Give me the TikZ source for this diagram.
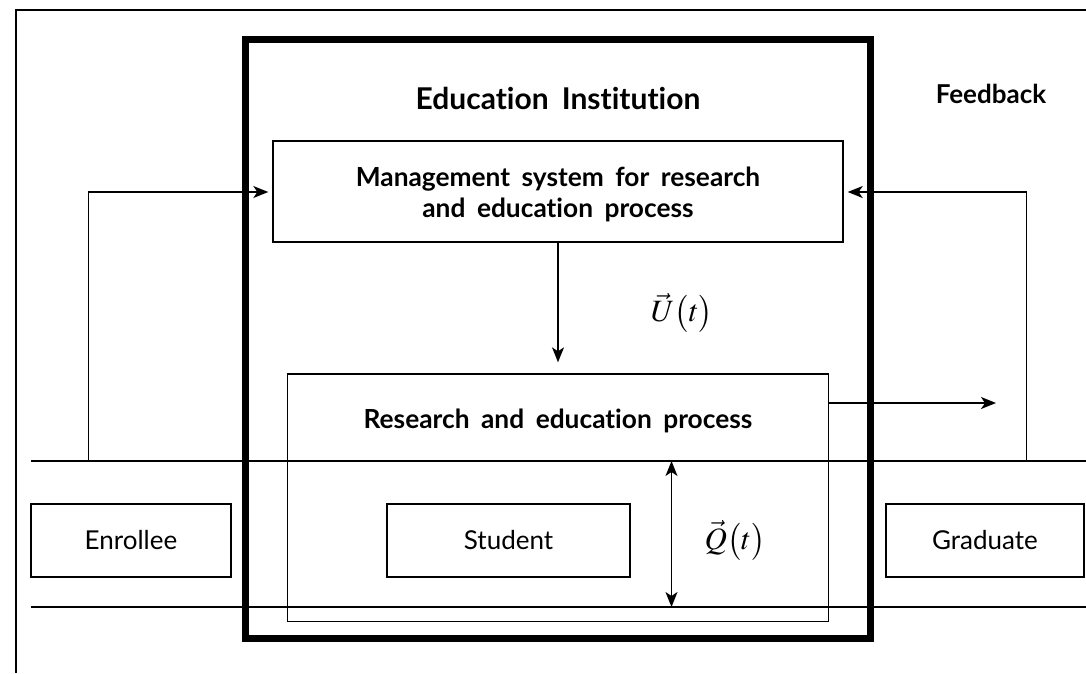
\documentclass[tikz,border=0pt]{standalone}
\usepackage{mathptmx}
\usepackage{fontspec}
\setmainfont{Lato}[WordSpace=1.8,Ligatures=NoCommon]
\usetikzlibrary{arrows.meta}
\begin{document}
\begin{tikzpicture}[x=1pt,y=-1pt,
  thin/.style={line width=1.4pt},
  box/.style={draw,thin,rectangle,inner sep=0pt},
  lbl/.style={font=\fontsize{26}{30}\selectfont},
  btitle/.style={font=\fontsize{26.3}{31}\selectfont\bfseries,align=center},
  tip/.style={Stealth[length=15pt,width=12pt,inset=4pt]},
  arr/.style={thin,-{Stealth[length=15pt,width=12pt,inset=4pt]}},
  darr/.style={thin,{Stealth[length=15pt,width=12pt,inset=4pt]}-{Stealth[length=15pt,width=12pt,inset=4pt]}},
  mathlbl/.style={font=\fontsize{31}{36}\selectfont}]
\useasboundingbox (0,0) rectangle (1086,673);
% outer frame
\coordinate (ftr) at (1086,10);
\coordinate (ftl) at (15.8,10);
\coordinate (fbl) at (15.8,673);
\draw[thin] (ftr) -- (ftl) -- (fbl);
% institution
\node[draw,line width=7pt,minimum width=625pt,minimum height=598.5pt,inner sep=0pt] (inst) at (558.1,338.75) {};
\node[font=\fontsize{30}{34}\selectfont\bfseries] (insttitle) at (558,98) {Education Institution};
\node[font=\fontsize{26}{30}\selectfont\bfseries] (fb) at (991,94) {Feedback};
% boxes
\node[box,minimum width=570pt,minimum height=101pt] (mgmt) at (558,191.5) {};
\node[btitle] (mgmttxt) at (558,194) {Management system for research\\and education process};
\node[box,minimum width=540.6pt,minimum height=247.7pt] (rep) at (558,497.85) {};
\node[btitle] (reptxt) at (558,421) {Research and education process};
% lane lines
\coordinate (l1a) at (31,461); \coordinate (l1b) at (1086,461);
\coordinate (l2a) at (31,607); \coordinate (l2b) at (1086,607);
\draw[thin] (l1a) -- (l1b);
\draw[thin] (l2a) -- (l2b);
% lane boxes
\node[box,lbl,fill=white,minimum width=200pt,minimum height=73pt] (enr) at (131,540.5) {Enrollee};
\node[box,lbl,fill=white,minimum width=243pt,minimum height=73pt] (stu) at (508.5,540.5) {Student};
\node[box,lbl,fill=white,minimum width=198pt,minimum height=73pt] (grad) at (985,540.5) {Graduate};
% feedback arrows
\coordinate (fl0) at (88.5,461); \coordinate (fl1) at (88.5,192);
\draw[arr,shorten >=4pt] (fl0) -- (fl1) -- (mgmt.west |- fl1);
\coordinate (fr0) at (1026.5,461); \coordinate (fr1) at (1026.5,192);
\draw[arr,shorten >=4pt] (fr0) -- (fr1) -- (mgmt.east |- fr1);
% control arrow
\draw[arr,shorten >=11pt] (mgmt.south) -- (rep.north);
\node[mathlbl] (u) at (682,313) {$\vec{U}\bigl(t\bigr)$};
% output arrow
\coordinate (outend) at (996,403);
\draw[arr] (rep.east |- outend) -- (outend);
% state arrow
\coordinate (q0) at (671.5,461); \coordinate (q1) at (671.5,607);
\draw[darr] (q0) -- (q1);
\node[mathlbl] (q) at (735,540) {$\vec{Q}\bigl(t\bigr)$};
\end{tikzpicture}
\end{document}
